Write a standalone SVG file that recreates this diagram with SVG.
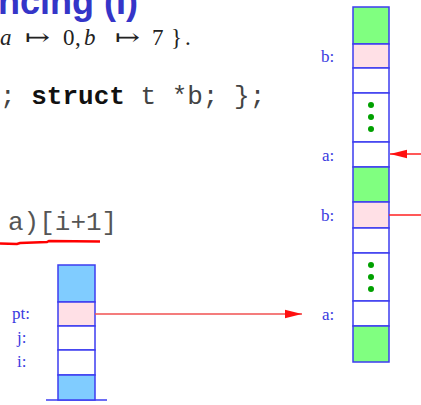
<svg xmlns="http://www.w3.org/2000/svg" width="421" height="405" viewBox="0 0 421 405">
  <defs>
    <style>
      .title { font-family: "Liberation Sans", Arial, sans-serif; font-weight: bold; font-size: 36px; fill: #3535c8; }
      .math { font-family: "Liberation Serif", "DejaVu Serif", serif; font-size: 23px; fill: #222; }
      .mathi { font-style: italic; }
      .code { font-family: "Liberation Mono", "Courier New", monospace; font-size: 26px; fill: #444; }
      .kw { font-weight: bold; fill: #111; }
      .lbl { font-family: "Liberation Serif", "Times New Roman", serif; font-size: 17px; fill: #3a3ae0; }
      .cell { stroke: #3c3cf0; stroke-width: 1.5; }
      .green { fill: #80ff80; }
      .sky { fill: #80ccff; }
      .pink { fill: #ffe0e6; }
      .white { fill: #ffffff; }
      .dot { fill: #00a000; }
      .ptr { stroke: #ff2020; stroke-width: 1.5; fill: none; }
    </style>
    <marker id="head" markerWidth="18" markerHeight="10" refX="17" refY="5" orient="auto" markerUnits="userSpaceOnUse">
      <path d="M0,0.8 L17,5 L0,9.2 Z" fill="#ff1010"/>
    </marker>
  </defs>

  <!-- heading and source text -->
  <text class="title" x="-2" y="14">ncing (I)</text>

  <g class="math">
    <text x="0" y="45" class="mathi">a</text>
    <text x="25" y="45" textLength="25" lengthAdjust="spacingAndGlyphs">↦</text>
    <text x="63" y="45">0</text>
    <text x="75" y="45">,</text>
    <text x="84" y="45" class="mathi">b</text>
    <text x="115" y="45" textLength="25" lengthAdjust="spacingAndGlyphs">↦</text>
    <text x="152" y="45">7</text>
    <text x="171" y="45">}</text>
    <text x="185" y="45">.</text>
  </g>

  <text class="code" x="0" y="104" xml:space="preserve">; <tspan class="kw">struct</tspan> t *b; };</text>

  <text class="code" x="8" y="230" style="fill:#555">a)[i+1]</text>
  <path d="M0,243.5 L17,244 L20,243 L47,242 L49,241 L100,241.5" stroke="#ff0000" stroke-width="2.5" fill="none"/>

  <!-- stack frame -->
  <g id="stack">
    <line x1="46" y1="400" x2="107" y2="400" class="cell"/>
    <rect x="58" y="265" width="37" height="37" class="cell sky"/>
    <rect x="58" y="302" width="37" height="24" class="cell pink"/>
    <rect x="58" y="326" width="37" height="24" class="cell white"/>
    <rect x="58" y="350" width="37" height="25" class="cell white"/>
    <rect x="58" y="375" width="37" height="25" class="cell sky"/>
    <text class="lbl" x="12" y="319">pt:</text>
    <text class="lbl" x="17" y="343">j:</text>
    <text class="lbl" x="17" y="367">i:</text>
  </g>

  <!-- heap block -->
  <g id="heap">
    <rect x="353" y="7" width="36" height="37" class="cell green"/>
    <rect x="353" y="44" width="36" height="24" class="cell pink"/>
    <rect x="353" y="68" width="36" height="25" class="cell white"/>
    <rect x="353" y="93" width="36" height="49" class="cell white"/>
    <rect x="353" y="142" width="36" height="25" class="cell white"/>
    <rect x="353" y="167" width="36" height="35" class="cell green"/>
    <rect x="353" y="202" width="36" height="26" class="cell pink"/>
    <rect x="353" y="228" width="36" height="25" class="cell white"/>
    <rect x="353" y="253" width="36" height="48" class="cell white"/>
    <rect x="353" y="301" width="36" height="25" class="cell white"/>
    <rect x="353" y="326" width="36" height="36" class="cell green"/>
    <circle cx="371" cy="105" r="3" class="dot"/>
    <circle cx="371" cy="117" r="3" class="dot"/>
    <circle cx="371" cy="129" r="3" class="dot"/>
    <circle cx="371" cy="265" r="3" class="dot"/>
    <circle cx="371" cy="277" r="3" class="dot"/>
    <circle cx="371" cy="289" r="3" class="dot"/>
    <text class="lbl" x="321" y="62">b:</text>
    <text class="lbl" x="322" y="161">a:</text>
    <text class="lbl" x="321" y="221">b:</text>
    <text class="lbl" x="322" y="320">a:</text>
  </g>

  <!-- pointers -->
  <g id="connectors">
    <line x1="95" y1="314" x2="302" y2="314" class="ptr" style="stroke:#f05050" marker-end="url(#head)"/>
    <line x1="421" y1="154" x2="390" y2="154" class="ptr" marker-end="url(#head)"/>
    <line x1="389" y1="215" x2="421" y2="215" class="ptr"/>
  </g>
</svg>
